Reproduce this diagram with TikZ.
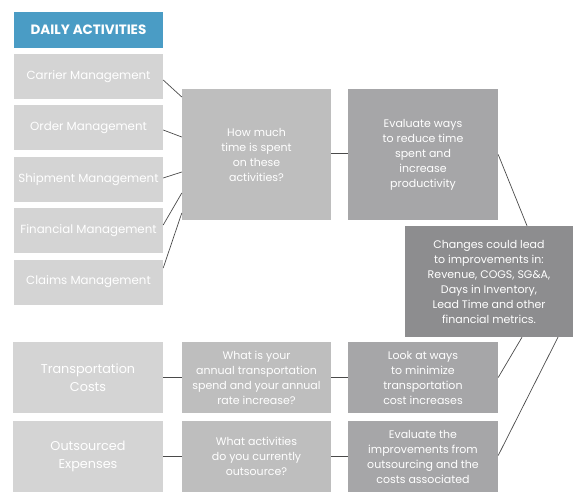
\documentclass[tikz,border=0pt]{standalone}
\usepackage{fontspec}
\setmainfont{Poppins}
\usepackage{tikz}
\usetikzlibrary{positioning}

\definecolor{headblue}{HTML}{4A9CC5}
\definecolor{paleg}{HTML}{D4D4D4}
\definecolor{midg}{HTML}{BEBEBE}
\definecolor{darkg}{HTML}{A6A6A8}
\definecolor{deepg}{HTML}{8D8D8F}
\definecolor{wire}{HTML}{4A4A4A}

\begin{document}
\begin{tikzpicture}[
  x=1pt, y=-1pt,
  font=\fontsize{11}{15}\selectfont,
  head/.style={fill=headblue, text=white, minimum width=149pt, minimum height=36pt, inner sep=0pt, font=\fontsize{13.5}{15}\selectfont\bfseries},
  task/.style={fill=paleg, text=white, minimum width=149pt, minimum height=45pt, inner sep=0pt, align=center, font=\fontsize{11.8}{15}\selectfont},
  cost/.style={fill=paleg, text=white, minimum width=150pt, minimum height=71pt, inner sep=0pt, align=center, font=\fontsize{12.8}{17.5}\selectfont},
  ask/.style={fill=midg, text=white, minimum width=149pt, inner sep=0pt, align=center},
  act/.style={fill=darkg, text=white, minimum width=150pt, inner sep=0pt, align=center},
  gain/.style={fill=deepg, text=white, minimum width=168pt, minimum height=111pt, inner sep=0pt, align=center},
  link/.style={draw=wire, line width=0.7pt}
]
\useasboundingbox (0,0) rectangle (583,500);

\node[head] (head) at (88.5,30) {DAILY ACTIVITIES};
\node[task] (carrier) at (88.5,76.5) {Carrier Management};
\node[task] (order) at (88.5,127.5) {Order Management};
\node[task] (ship) at (88.5,179.5) {Shipment Management};
\node[task] (fin) at (88.5,230.5) {Financial Management};
\node[task] (claims) at (88.5,282) {Claims Management};

\node[ask, minimum height=131pt] (time) at (256.5,154.5) {How much\\time is spent\\on these\\activities?};
\node[act, minimum height=131pt] (reduce) at (423,154.5) {Evaluate ways\\to reduce time\\spent and\\increase\\productivity};
\node[gain] (gain) at (489,281.5) {Changes could lead\\to improvements in:\\Revenue, COGS, SG\&A,\\Days in Inventory,\\Lead Time and other\\financial metrics.};

\node[cost] (trans) at (88,377.5) {Transportation\\Costs};
\node[cost] (outs) at (88,456.5) {Outsourced\\Expenses};
\node[ask, minimum height=71pt] (spend) at (256.5,377.5) {What is your\\annual transportation\\spend and your annual\\rate increase?};
\node[ask, minimum height=71pt] (which) at (256.5,456.5) {What activities\\do you currently\\outsource?};
\node[act, minimum height=71pt] (minim) at (423,377.5) {Look at ways\\to minimize\\transportation\\cost increases};
\node[act, minimum height=71pt] (improve) at (423,456.5) {Evaluate the\\improvements from\\outsourcing and the\\costs associated};

% daily tasks feed the time question
\draw[link] ([yshift=-3.5pt]carrier.east) -- ([yshift=57.5pt]time.west);
\draw[link] ([yshift=-2.5pt]order.east) -- ([yshift=17.5pt]time.west);
\draw[link] ([yshift=1.5pt]ship.east) -- ([yshift=-17.5pt]time.west);
\draw[link] ([yshift=5.5pt]fin.east) -- ([yshift=-38.5pt]time.west);
\draw[link] ([yshift=14pt]claims.east) -- ([yshift=-58.5pt]time.west);
\draw[link] ([yshift=1.5pt]time.east) -- ([yshift=1.5pt]reduce.west);
\draw[link] (reduce.east) -- ([xshift=38pt]gain.north);

% cost rows
\draw[link] (trans.east) -- (spend.west);
\draw[link] (spend.east) -- (minim.west);
\draw[link] (outs.east) -- (which.west);
\draw[link] (which.east) -- (improve.west);
\draw[link] ([xshift=33pt]gain.south) -- (minim.east);
\draw[link] ([xshift=69pt]gain.south) -- ([yshift=1pt]improve.east);
\end{tikzpicture}
\end{document}
